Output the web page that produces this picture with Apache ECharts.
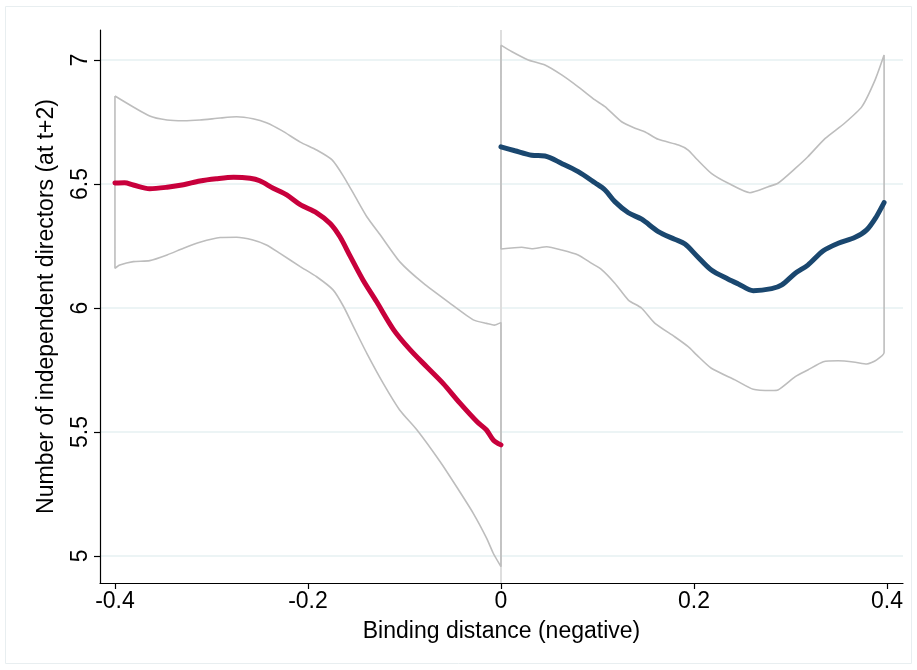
<!DOCTYPE html>
<html>
<head>
<meta charset="utf-8">
<script src="https://cdn.jsdelivr.net/npm/echarts@6/dist/echarts.min.js"></script>
<style>html,body{margin:0;padding:0;background:#fff;}#c{width:917px;height:670px;}</style>
</head>
<body>
<div id="c"></div>
<script>
const xTicks = [-0.4, -0.2, 0, 0.2, 0.4];
const yTicks = [5, 5.5, 6, 6.5, 7];
const xTitle = 'Binding distance (negative)';
const yTitle = 'Number of independent directors (at t+2)';

const leftFit = [[-0.4,6.504],[-0.39,6.505],[-0.381,6.496],[-0.364,6.481],[-0.346,6.487],[-0.329,6.497],[-0.312,6.512],[-0.295,6.521],[-0.277,6.527],[-0.26,6.523],[-0.25,6.513],[-0.236,6.483],[-0.222,6.456],[-0.208,6.417],[-0.191,6.384],[-0.177,6.341],[-0.167,6.288],[-0.156,6.207],[-0.143,6.113],[-0.129,6.026],[-0.111,5.911],[-0.094,5.831],[-0.077,5.763],[-0.06,5.696],[-0.0425,5.616],[-0.025,5.542],[-0.015,5.508],[-0.008,5.468],[0,5.448]];
const leftUpper = [[-0.4,6.855],[-0.364,6.774],[-0.346,6.758],[-0.329,6.755],[-0.312,6.758],[-0.291,6.766],[-0.274,6.771],[-0.257,6.763],[-0.243,6.747],[-0.227,6.715],[-0.208,6.669],[-0.191,6.637],[-0.175,6.597],[-0.163,6.53],[-0.151,6.449],[-0.139,6.368],[-0.125,6.294],[-0.105,6.187],[-0.0805,6.1],[-0.0528,6.019],[-0.0287,5.952],[-0.0148,5.938],[-0.007,5.931],[0,5.941]];
const leftLower = [[-0.4,6.16],[-0.395,6.173],[-0.381,6.187],[-0.364,6.191],[-0.346,6.214],[-0.329,6.241],[-0.312,6.265],[-0.291,6.284],[-0.274,6.285],[-0.257,6.274],[-0.243,6.254],[-0.229,6.22],[-0.208,6.167],[-0.191,6.126],[-0.174,6.073],[-0.163,6.005],[-0.152,5.918],[-0.139,5.817],[-0.122,5.696],[-0.105,5.589],[-0.087,5.508],[-0.063,5.38],[-0.046,5.279],[-0.0287,5.172],[-0.0148,5.071],[-0.008,5.011],[0,4.957]];

const rightFit = [[0,6.65],[0.0145,6.634],[0.0318,6.616],[0.0456,6.613],[0.0629,6.583],[0.08,6.55],[0.0974,6.505],[0.1078,6.476],[0.118,6.429],[0.132,6.384],[0.1458,6.358],[0.163,6.308],[0.18,6.277],[0.1907,6.258],[0.203,6.21],[0.218,6.153],[0.2356,6.116],[0.246,6.097],[0.2614,6.07],[0.2805,6.078],[0.291,6.093],[0.305,6.14],[0.318,6.173],[0.334,6.231],[0.3495,6.261],[0.367,6.285],[0.379,6.315],[0.389,6.368],[0.397,6.425]];
const rightUpper = [[0,7.06],[0.011,7.034],[0.0283,7.0],[0.0456,6.98],[0.0629,6.94],[0.08,6.892],[0.0974,6.839],[0.1078,6.812],[0.125,6.751],[0.1389,6.725],[0.149,6.711],[0.163,6.68],[0.184,6.657],[0.194,6.637],[0.203,6.6],[0.218,6.543],[0.2356,6.503],[0.258,6.465],[0.277,6.489],[0.287,6.503],[0.305,6.563],[0.318,6.61],[0.336,6.684],[0.356,6.745],[0.374,6.812],[0.3876,6.919],[0.397,7.02]];
const rightLower = [[0,6.238],[0.0215,6.245],[0.032,6.239],[0.0474,6.247],[0.0629,6.234],[0.08,6.214],[0.094,6.18],[0.104,6.156],[0.118,6.1],[0.132,6.032],[0.1458,5.999],[0.1596,5.938],[0.18,5.884],[0.194,5.844],[0.203,5.81],[0.218,5.757],[0.2425,5.71],[0.2614,5.672],[0.2805,5.667],[0.287,5.669],[0.305,5.723],[0.318,5.75],[0.334,5.783],[0.3495,5.787],[0.367,5.781],[0.379,5.774],[0.389,5.79],[0.397,5.82]];

function band(up, lo) {
  return up.concat(lo.slice().reverse(), [up[0]]);
}

const FONT = '"Liberation Sans", Arial, sans-serif';
const chart = echarts.init(document.getElementById('c'), null, {renderer: 'canvas'});
const ciStyle = {color: '#bdbdbd', width: 1.6};
chart.setOption({
  animation: false,
  backgroundColor: '#fff',
  graphic: [{
    type: 'rect', z: -10, silent: true,
    shape: {x: 5.5, y: 6.5, width: 906, height: 657},
    style: {fill: '#fff', stroke: '#e8eef0', lineWidth: 1}
  }],
  grid: {left: 100, right: 14, top: 30, bottom: 87, containLabel: false},
  xAxis: {
    type: 'value', min: -0.4155, max: 0.4166,
    axisLine: {show: true, onZero: false, lineStyle: {color: '#000', width: 1.2}},
    axisTick: {show: true, length: 6, lineStyle: {color: '#000', width: 1.2}, customValues: xTicks},
    axisLabel: {customValues: xTicks, color: '#000', fontSize: 23, fontFamily: FONT, margin: 7,
      formatter: v => String(Math.round(v * 10) / 10)},
    splitLine: {show: false},
    name: xTitle, nameLocation: 'middle', nameGap: 37,
    nameTextStyle: {color: '#000', fontSize: 23, fontFamily: FONT}
  },
  yAxis: {
    type: 'value', min: 4.891, max: 7.121,
    axisLine: {show: true, onZero: false, lineStyle: {color: '#000', width: 1.2}},
    axisTick: {show: true, length: 6, lineStyle: {color: '#000', width: 1.2}, customValues: yTicks},
    axisLabel: {customValues: yTicks, color: '#000', fontSize: 23, fontFamily: FONT, margin: 8, rotate: 90,
      formatter: v => String(Math.round(v * 10) / 10)},
    splitLine: {show: true, lineStyle: {color: '#e6f0f2', width: 1.5}},
    name: yTitle, nameLocation: 'middle', nameGap: 42, nameRotate: 90,
    nameTextStyle: {color: '#000', fontSize: 23, fontFamily: FONT}
  },
  series: [
    {type: 'line', data: band(leftUpper, leftLower), showSymbol: false, lineStyle: ciStyle, z: 2, smooth: 0.2,
      markLine: {silent: true, symbol: 'none', label: {show: false}, lineStyle: {color: '#dedede', width: 2, type: 'solid'}, data: [{xAxis: 0}], z: 1}},
    {type: 'line', data: band(rightUpper, rightLower), showSymbol: false, lineStyle: ciStyle, z: 2, smooth: 0.2},
    {type: 'line', data: leftFit, showSymbol: false, smooth: 0.3, lineStyle: {color: '#c8003c', width: 5, cap: 'round'}, z: 3},
    {type: 'line', data: rightFit, showSymbol: false, smooth: 0.3, lineStyle: {color: '#1a476f', width: 5, cap: 'round'}, z: 3}
  ]
});
</script>
</body>
</html>
